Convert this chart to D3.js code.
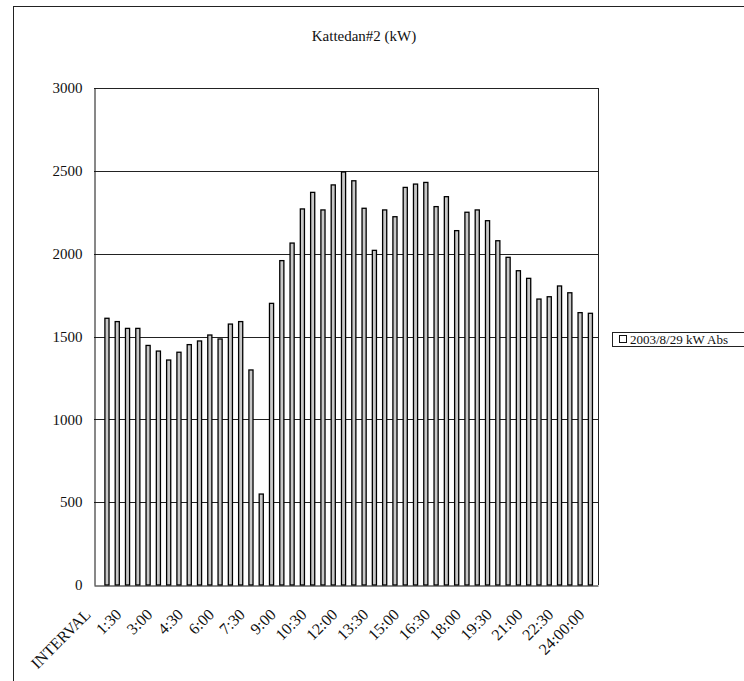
<!DOCTYPE html>
<html>
<head>
<meta charset="utf-8">
<script src="https://cdn.jsdelivr.net/npm/d3@7"></script>
<style>
  html, body { margin: 0; padding: 0; background: #fff; }
  svg { display: block; }
  text { font-family: "Liberation Serif", "Times New Roman", serif; fill: #111; }
</style>
</head>
<body>
<svg id="chart" width="744" height="681"></svg>
<script>
// Half-hourly demand, Kattedan#2, 2003/8/29
const categories = [
  "INTERVAL",
  "0:30", "1:00", "1:30", "2:00", "2:30", "3:00", "3:30", "4:00",
  "4:30", "5:00", "5:30", "6:00", "6:30", "7:00", "7:30", "8:00",
  "8:30", "9:00", "9:30", "10:00", "10:30", "11:00", "11:30", "12:00",
  "12:30", "13:00", "13:30", "14:00", "14:30", "15:00", "15:30", "16:00",
  "16:30", "17:00", "17:30", "18:00", "18:30", "19:00", "19:30", "20:00",
  "20:30", "21:00", "21:30", "22:00", "22:30", "23:00", "23:30", "24:00:00"
];
const kwAbs = [
  null,
  1610, 1590, 1549, 1549, 1446, 1412, 1358, 1405,
  1451, 1473, 1509, 1485, 1575, 1590, 1298, 549,
  1700, 1958, 2064, 2270, 2370, 2264, 2415, 2493,
  2440, 2274, 2020, 2264, 2223, 2400, 2420, 2430,
  2284, 2344, 2139, 2250, 2264, 2199, 2078, 1978,
  1897, 1851, 1726, 1740, 1805, 1764, 1644, 1640
];
const xTickLabels = ["INTERVAL", "1:30", "3:00", "4:30", "6:00", "7:30", "9:00",
  "10:30", "12:00", "13:30", "15:00", "16:30", "18:00", "19:30", "21:00", "22:30", "24:00:00"];
const yTicks = [0, 500, 1000, 1500, 2000, 2500, 3000];
const chartTitle = "Kattedan#2 (kW)";
const seriesName = "2003/8/29 kW Abs";

const svg = d3.select("#chart");
const plot = { left: 94, top: 88, right: 598, bottom: 585 };

// Outer chart frame (extends past the right and bottom edges)
svg.append("rect")
  .attr("x", 13.5).attr("y", 6.5)
  .attr("width", 800).attr("height", 760)
  .attr("fill", "none").attr("stroke", "#222").attr("stroke-width", 1);

svg.append("text")
  .attr("x", 364).attr("y", 41)
  .attr("text-anchor", "middle")
  .attr("font-size", 15)
  .text(chartTitle);

const x = d3.scaleBand()
  .domain(categories)
  .range([plot.left, plot.right])
  .paddingInner(0.6)
  .paddingOuter(0.3)
  .align(0.1);

const y = d3.scaleLinear()
  .domain([0, 3000])
  .range([plot.bottom, plot.top]);

// Horizontal gridlines
svg.append("g")
  .selectAll("line")
  .data(yTicks.slice(1))
  .join("line")
  .attr("x1", plot.left).attr("x2", plot.right)
  .attr("y1", d => Math.round(y(d)) + 0.5)
  .attr("y2", d => Math.round(y(d)) + 0.5)
  .attr("stroke", "#222").attr("stroke-width", 1);

// Right edge of the plot area
svg.append("line")
  .attr("x1", plot.right + 0.5).attr("x2", plot.right + 0.5)
  .attr("y1", plot.top).attr("y2", plot.bottom)
  .attr("stroke", "#222");

// Bars
const bars = categories.map((c, i) => ({ c, v: kwAbs[i] })).filter(d => d.v != null);
svg.append("g")
  .selectAll("rect")
  .data(bars)
  .join("rect")
  .attr("x", d => x(d.c))
  .attr("width", x.bandwidth())
  .attr("y", d => y(d.v))
  .attr("height", d => y(0) - y(d.v))
  .attr("fill", "#c8c8c8")
  .attr("stroke", "#000")
  .attr("stroke-width", 1.3);

// Y axis
const yAxis = svg.append("g")
  .attr("transform", `translate(${plot.left + 0.5},0)`)
  .call(d3.axisLeft(y).tickValues(yTicks).tickSize(0).tickPadding(12).tickFormat(d3.format("d")));
yAxis.select(".domain").attr("stroke", "#111");
yAxis.selectAll("text").attr("font-size", 15).attr("font-family", "Liberation Serif, serif");

// X axis
const xAxis = svg.append("g")
  .attr("transform", `translate(0,${plot.bottom + 0.5})`)
  .call(d3.axisBottom(x).tickValues(xTickLabels).tickSize(0).tickSizeOuter(0));
xAxis.select(".domain").attr("stroke", "#111");
xAxis.selectAll("text")
  .attr("font-size", 16)
  .attr("font-family", "Liberation Serif, serif")
  .attr("text-anchor", "end")
  .attr("dy", 0)
  .attr("y", 0)
  .attr("transform", "translate(-5,30) rotate(-45)");

// Legend
const legend = svg.append("g").attr("transform", "translate(612,332)");
legend.append("rect")
  .attr("x", 0.5).attr("y", 0.5)
  .attr("width", 200).attr("height", 14)
  .attr("fill", "#fff").attr("stroke", "#222");
legend.append("rect")
  .attr("x", 7.5).attr("y", 3.5)
  .attr("width", 7).attr("height", 7)
  .attr("fill", "#fff").attr("stroke", "#111");
legend.append("text")
  .attr("x", 18).attr("y", 11.5)
  .attr("font-size", 13)
  .text(seriesName);
</script>
</body>
</html>
